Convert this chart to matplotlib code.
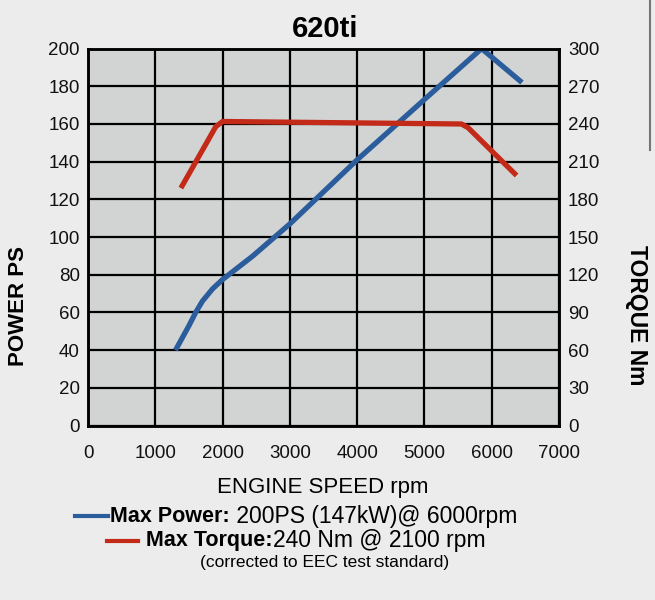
import numpy as np
import matplotlib
matplotlib.use("Agg")
import matplotlib.pyplot as plt

# data
power_rpm = [1300, 1500, 1600, 1700, 1850, 2000, 2450, 3000, 4000, 5000, 5850, 6450]
power_ps = [40, 53, 60, 66, 72.5, 77.5, 90, 107, 141, 173, 200, 182]
torque_rpm = [1380, 1900, 2000, 5550, 5650, 6370]
torque_nm = [189, 238, 242, 240, 237, 199]

x_ticks = [0, 1000, 2000, 3000, 4000, 5000, 6000, 7000]
ps_ticks = [0, 20, 40, 60, 80, 100, 120, 140, 160, 180, 200]
nm_ticks = [0, 30, 60, 90, 120, 150, 180, 210, 240, 270, 300]

blue = '#2b5c9c'
red = '#c42a18'

plt.rcParams['font.family'] = ['Liberation Sans', 'DejaVu Sans']

fig = plt.figure(figsize=(6.55, 6.0), dpi=100, facecolor='#ececec')
ax = fig.add_axes([0.1344, 0.2907, 0.7190, 0.6283])
ax.set_facecolor('#d2d4d3')
ax.set_xlim(0, 7000)
ax.set_ylim(0, 200)
ax.set_xticks(x_ticks)
ax.set_yticks(ps_ticks)
ax.grid(True, color='black', linewidth=1.6)
ax.set_axisbelow(True)
for s in ax.spines.values():
    s.set_linewidth(1.8)
ax.tick_params(axis='both', length=0, labelsize=13.5, colors='#111111')
ax.tick_params(axis='x', pad=14)
ax.tick_params(axis='y', pad=6)

ax2 = ax.twinx()
ax2.set_ylim(0, 300)
ax2.set_yticks(nm_ticks)
ax2.tick_params(axis='y', length=0, labelsize=13.5, pad=6.5, colors='#111111')
for s in ax2.spines.values():
    s.set_linewidth(1.8)

ax.plot(power_rpm, power_ps, color=blue, linewidth=3.8, solid_capstyle='butt', solid_joinstyle='round', zorder=5)
ax2.plot(torque_rpm, torque_nm, color=red, linewidth=3.8, solid_capstyle='butt', solid_joinstyle='round', zorder=5)

fig.text(0.497, 0.952, '620ti', ha='center', va='center', fontsize=21, fontweight='bold')
fig.text(0.028, 0.49, 'POWER PS', rotation=90, ha='center', va='center', fontsize=16, fontweight='bold')
fig.text(0.971, 0.475, 'TORQUE Nm', rotation=-90, ha='center', va='center', fontsize=16.5, fontweight='bold')
fig.text(0.492, 0.188, 'ENGINE SPEED rpm', ha='center', va='center', fontsize=16)

# legend lines drawn in figure coords
fig.add_artist(plt.Line2D([0.115, 0.165], [0.140, 0.140], color=blue, linewidth=3))
fig.add_artist(plt.Line2D([0.163, 0.211], [0.099, 0.099], color=red, linewidth=3))

# dark edge of the page at top right
fig.add_artist(plt.Line2D([0.992, 0.992], [1.0, 0.75], color='#444444', linewidth=1.5, alpha=0.7))

fig.canvas.draw()
r = fig.canvas.get_renderer()

def two_part(x, y, bold, normal, bsize, nsize):
    t = fig.text(x, y, bold, ha='left', va='center', fontsize=bsize, fontweight='bold')
    bb = t.get_window_extent(renderer=r)
    x2 = bb.x1 / fig.bbox.width
    fig.text(x2, y, normal, ha='left', va='center', fontsize=nsize)

two_part(0.168, 0.140, 'Max Power:', ' 200PS (147kW)@ 6000rpm', 15.5, 16.5)
two_part(0.223, 0.099, 'Max Torque:', '240 Nm @ 2100 rpm', 15.5, 16.5)
fig.text(0.496, 0.062, '(corrected to EEC test standard)', ha='center', va='center', fontsize=12.5)

fig.savefig('out.png', dpi=100, facecolor=fig.get_facecolor())
